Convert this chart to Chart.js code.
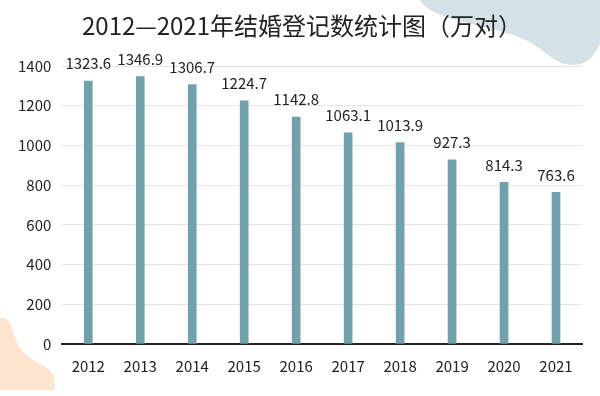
<!DOCTYPE html>
<html>
<head>
<meta charset="utf-8">
<script src="https://cdn.jsdelivr.net/npm/chart.js@4"></script>
<style>
html,body{margin:0;padding:0;background:#fff;}
#wrap{width:600px;height:396px;position:relative;}
</style>
</head>
<body>
<div id="wrap"><canvas id="c" width="600" height="396"></canvas></div>
<script>
const titleText = '2012—2021年结婚登记数统计图（万对）';
const years = ['2012','2013','2014','2015','2016','2017','2018','2019','2020','2021'];
const marriages = [1323.6, 1346.9, 1306.7, 1224.7, 1142.8, 1063.1, 1013.9, 927.3, 814.3, 763.6];
const yTicks = [0, 200, 400, 600, 800, 1000, 1200, 1400];

const FONT = '"Noto Sans CJK SC", "Noto Sans", sans-serif';

const bgShapes = {
  id: 'bgShapes',
  beforeDraw(chart) {
    const ctx = chart.ctx;
    ctx.save();
    ctx.fillStyle = '#ffffff';
    ctx.fillRect(0, 0, chart.width, chart.height);
    // top-right blue blob
    ctx.fillStyle = '#d4e1e6';
    ctx.beginPath();
    ctx.moveTo(420, 0);
    ctx.bezierCurveTo(430, 18, 470, 22, 510, 34);
    ctx.bezierCurveTo(545, 44, 550, 66, 575, 65);
    ctx.bezierCurveTo(590, 64, 596, 52, 600, 44);
    ctx.lineTo(600, 0);
    ctx.closePath();
    ctx.fill();
    // bottom-left peach blob
    ctx.fillStyle = '#fce4cf';
    ctx.beginPath();
    ctx.moveTo(0, 318);
    ctx.bezierCurveTo(8, 316, 12, 325, 14, 334);
    ctx.bezierCurveTo(18, 352, 30, 358, 44, 366);
    ctx.bezierCurveTo(56, 372, 55, 382, 55, 390);
    ctx.lineTo(0, 390);
    ctx.closePath();
    ctx.fill();
    // title
    ctx.font = '24px ' + FONT;
    ctx.fillStyle = '#222';
    ctx.textAlign = 'center';
    ctx.textBaseline = 'middle';
    ctx.fillText(titleText, 302, 26);
    ctx.restore();
  }
};

const valueLabels = {
  id: 'valueLabels',
  afterDatasetsDraw(chart) {
    const ctx = chart.ctx;
    const meta = chart.getDatasetMeta(0);
    ctx.save();
    ctx.font = '15px ' + FONT;
    ctx.fillStyle = '#222';
    ctx.textAlign = 'center';
    ctx.textBaseline = 'bottom';
    meta.data.forEach((bar, i) => {
      ctx.fillText(marriages[i].toFixed(1), bar.x, bar.y - 10);
    });
    ctx.restore();
  }
};

new Chart(document.getElementById('c'), {
  type: 'bar',
  data: {
    labels: years,
    datasets: [{
      data: marriages,
      backgroundColor: '#6fa2ab',
      barThickness: 8
    }]
  },
  options: {
    responsive: false,
    animation: false,
    layout: { padding: { left: 7, right: 18, top: 66, bottom: 8 } },
    plugins: {
      legend: { display: false },
      tooltip: { enabled: false },
      title: { display: false }
    },
    scales: {
      x: {
        grid: { display: false, drawTicks: false },
        border: { display: true, color: '#222', width: 2 },
        ticks: { color: '#222', font: { family: FONT, size: 15 }, padding: 13 }
      },
      y: {
        min: 0, max: 1400,
        afterBuildTicks(axis) { axis.ticks = yTicks.map(v => ({ value: v })); },
        grid: { color: '#e4e4e4', drawTicks: false, lineWidth: 1 },
        border: { display: false },
        ticks: { color: '#222', font: { family: FONT, size: 15 }, padding: 11,
                 callback: (v) => String(v) }
      }
    }
  },
  plugins: [bgShapes, valueLabels]
});
</script>
</body>
</html>
